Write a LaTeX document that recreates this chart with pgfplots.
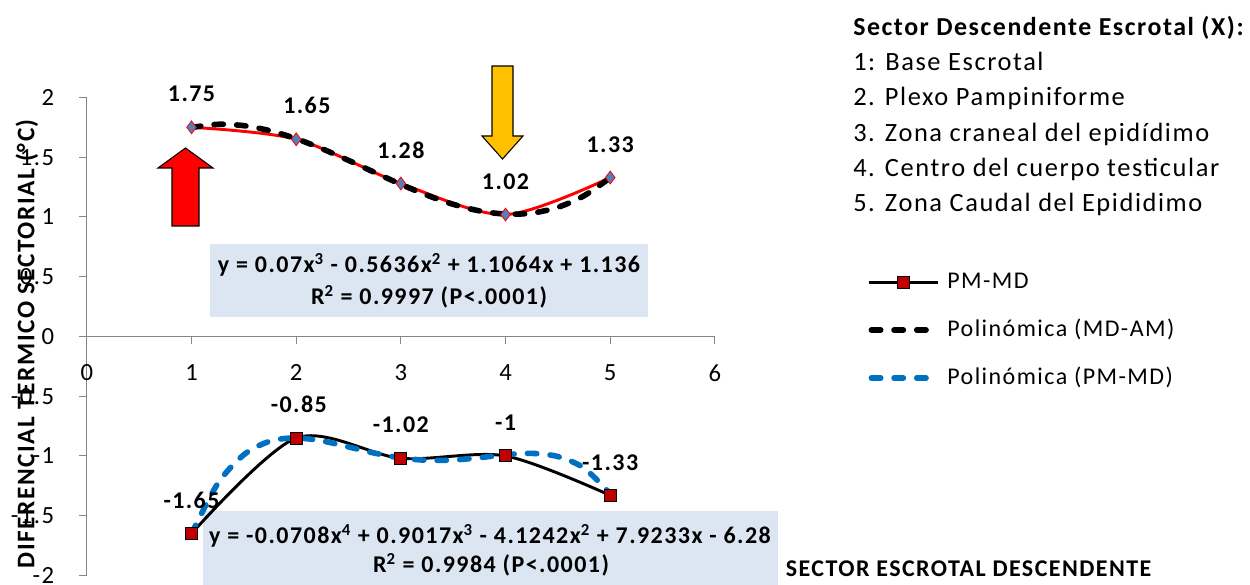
\documentclass[border=0pt]{standalone}
\usepackage{fontspec}
\setmainfont{Carlito}[LetterSpace=6]
\usepackage{pgfplots}
\pgfplotsset{compat=1.18}
\definecolor{axgray}{HTML}{868686}
\definecolor{boxblue}{HTML}{DCE6F2}
\definecolor{markblue}{HTML}{4F81BD}
\definecolor{sqred}{HTML}{C00000}
\definecolor{trendblue}{HTML}{0070C0}
\definecolor{arrowyellow}{HTML}{FFC000}
\pgfplotsset{dashlegend/.style={legend image code/.code={\draw[##1] (2.1pt,0pt) -- (43.1pt,0pt);}}}

\pgfplotstableread{
x y lab dx
1 1.75 1.75 0
2 1.65 1.65 8
3 1.28 1.28 0
4 1.02 1.02 0
5 1.33 1.33 0
}\mdam

\pgfplotstableread{
x y lab dx
1 -1.65 -1.65 0
2 -0.85 -0.85 2
3 -1.02 -1.02 0
4 -1 -1 0
5 -1.33 -1.33 0
}\pmmd

\pgfplotstableread{
x y
1 1.7488
1.25 1.7751
1.5 1.7638
1.75 1.7213
2 1.6544
2.25 1.5695
2.5 1.4733
2.75 1.3722
3 1.2728
3.25 1.1817
3.5 1.1056
3.75 1.0508
4 1.0240
4.25 1.0318
4.5 1.0807
4.75 1.1772
5 1.3280
}\trendup

\pgfplotstableread{
x y
1 -1.6500
1.25 -1.2317
1.5 -0.9897
1.75 -0.8761
2 -0.8494
2.25 -0.8749
2.5 -0.9246
2.75 -0.9767
3 -1.0168
3.25 -1.0364
3.5 -1.0339
3.75 -1.0146
4 -0.9900
4.25 -0.9786
4.5 -1.0052
4.75 -1.1016
5 -1.3160
}\trenddown

\begin{document}
\begin{tikzpicture}[x=0.75pt,y=0.75pt,font=\fontsize{18}{21.6}\selectfont]
\useasboundingbox (0,0) rectangle (1250,585);
% trend equation boxes
\fill[boxblue] (210,268) rectangle (648,341);
\fill[boxblue] (203,0) rectangle (778,74);
\node[anchor=base,font=\fontsize{18}{21.6}\selectfont\bfseries] at (429,312) {y = 0.07x\textsuperscript{3} - 0.5636x\textsuperscript{2} + 1.1064x + 1.136};
\node[anchor=base,font=\fontsize{18}{21.6}\selectfont\bfseries] at (429,280) {R\textsuperscript{2} = 0.9997 (P<.0001)};
\node[anchor=base,font=\fontsize{18}{21.6}\selectfont\bfseries] at (490,41) {y = -0.0708x\textsuperscript{4} + 0.9017x\textsuperscript{3} - 4.1242x\textsuperscript{2} + 7.9233x - 6.28};
\node[anchor=base,font=\fontsize{18}{21.6}\selectfont\bfseries] at (491,12) {R\textsuperscript{2} = 0.9984 (P<.0001)};

\begin{axis}[
  at={(83,8)}, anchor=south west, scale only axis,
  width=471pt, height=358.5pt,
  xmin=0, xmax=6, ymin=-2, ymax=2,
  axis x line=middle, axis y line=left,
  axis line style={draw=axgray, line width=0.8pt, -},
  every tick/.style={draw=axgray, line width=0.8pt},
  tick align=outside, major tick length=6pt,
  hide obscured x ticks=false, hide obscured y ticks=false,
  xtick={0,1,2,3,4,5,6}, xticklabels={0,1,2,3,4,5,6},
  ytick={-2,-1.5,-1,-0.5,0,0.5,1,1.5,2},
  yticklabels={-2,-1.5,-1,-0.5,0,0.5,1,1.5,2},
  ticklabel style={font=\fontsize{18.5}{21.6}\selectfont},
  xticklabel style={yshift=-11.5pt},
  yticklabel style={xshift=-15pt},
  ylabel={\bfseries DIFERENCIAL TERMICO SECTORIAL (°C)},
  ylabel style={at={(axis description cs:-0.0955,0.485)}, anchor=center, font=\fontsize{19}{22}\selectfont},
  xlabel={\bfseries SECTOR ESCROTAL DESCENDENTE},
  xlabel style={at={(axis description cs:1.404,0.0146)}, anchor=center},
  clip=false,
  legend style={at={(axis description cs:1.242,0.638)}, anchor=north west,
    draw=none, fill=none, inner sep=0pt, row sep=19pt, column sep=6pt,
    nodes={inner sep=0pt, text height=13pt, text depth=4pt},
    font=\fontsize{18}{21.6}\selectfont},
  legend cell align=left,
  legend image code/.code={\draw[mark repeat=2,mark phase=2,#1] plot coordinates {(0pt,0pt) (26pt,0pt) (52pt,0pt)};},
]
% MD-AM data (not in legend)
\addplot[draw=red, line width=2.2pt, smooth, mark=diamond*, mark size=4.8pt,
  mark options={fill=markblue, draw=red, line width=0.6pt},
  forget plot,
  nodes near coords, point meta=explicit symbolic,
  visualization depends on={\thisrow{dx}\as\dx},
  every node near coord/.append style={font=\fontsize{18}{21.6}\selectfont\bfseries, anchor=base, inner sep=0pt, yshift=19pt, xshift=\dx pt}]
  table[x=x,y=y,meta=lab] {\mdam};
% PM-MD data
\addplot[draw=black, line width=2.2pt, smooth, mark=square*, mark size=4.5pt,
  mark options={fill=sqred, draw=black, line width=0.7pt},
  nodes near coords, point meta=explicit symbolic,
  visualization depends on={\thisrow{dx}\as\dx},
  every node near coord/.append style={font=\fontsize{18}{21.6}\selectfont\bfseries, anchor=base, inner sep=0pt, yshift=19pt, xshift=\dx pt}]
  table[x=x,y=y,meta=lab] {\pmmd};
\addlegendentry{PM-MD}
% trend lines
\addplot[draw=black, line width=4.2pt, smooth, line cap=round, dash pattern=on 7pt off 10pt, no marks, dashlegend]
  table[x=x,y=y] {\trendup};
\addlegendentry{Polinómica (MD-AM)}
\addplot[draw=trendblue, line width=4.2pt, smooth, line cap=round, dash pattern=on 7pt off 10pt, no marks, dashlegend]
  table[x=x,y=y] {\trenddown};
\addlegendentry{Polinómica (PM-MD)}
\end{axis}

% arrows
\draw[fill=red, line width=0.8pt] (172,359) -- (199,359) -- (199,417) -- (213,417) -- (185.5,437) -- (158,417) -- (172,417) -- cycle;
\draw[fill=arrowyellow, line width=0.8pt] (492,519) -- (513,519) -- (513,449) -- (523,449) -- (502.5,426) -- (482,449) -- (492,449) -- cycle;

% right-hand description
\begin{scope}[every node/.style={anchor=base west, inner sep=0pt, font=\fontsize{19.8}{23}\selectfont}]
\node[font=\fontsize{19.4}{23}\selectfont\bfseries] at (853,549) {Sector Descendente Escrotal (X):};
\node at (853,514) {1: Base Escrotal};
\node at (853,479) {2. Plexo Pampiniforme};
\node at (853,443.5) {3. Zona craneal del epidídimo};
\node at (853,408) {4. Centro del cuerpo testicular};
\node at (853,373) {5. Zona Caudal del Epididimo};
\end{scope}
\end{tikzpicture}
\end{document}
